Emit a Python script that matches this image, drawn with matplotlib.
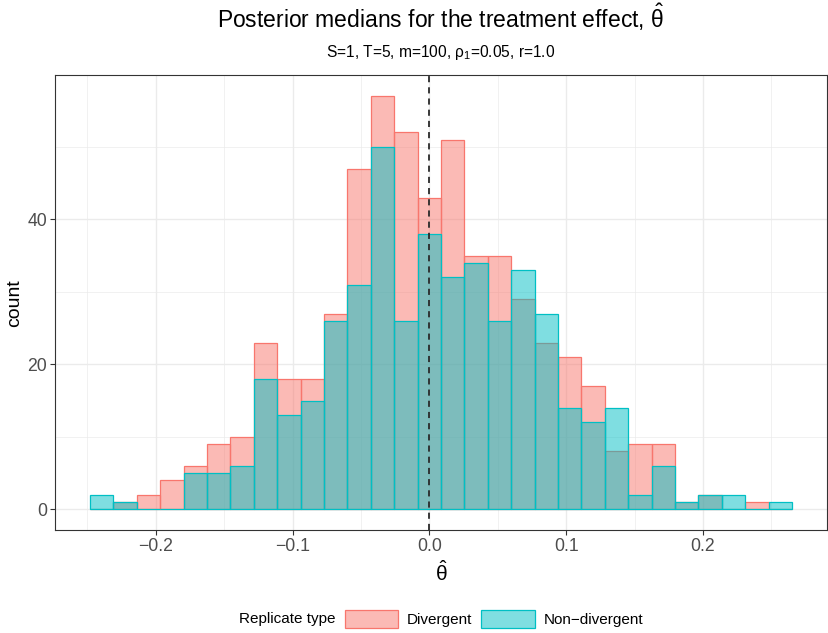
import numpy as np
import matplotlib
matplotlib.use('Agg')
import matplotlib.pyplot as plt
from matplotlib.patches import Patch

plt.rcParams['font.family'] = ['Liberation Sans', 'DejaVu Sans']
plt.rcParams['mathtext.fontset'] = 'custom'
plt.rcParams['mathtext.rm'] = 'Liberation Sans'
plt.rcParams['mathtext.it'] = 'Liberation Sans:italic'
plt.rcParams['mathtext.bf'] = 'Liberation Sans:bold'

# histogram bins (30 bins, ggplot default)
bin_start = -0.2480
bin_width = 0.0171
n_bins = 30

divergent = [0, 1, 2, 4, 6, 9, 10, 23, 18, 18, 27, 47, 57, 52, 43,
             51, 35, 35, 29, 23, 21, 17, 8, 9, 9, 1, 2, 0, 1, 0]
non_divergent = [2, 1, 0, 0, 5, 5, 6, 18, 13, 15, 26, 31, 50, 26, 38,
                 32, 34, 26, 33, 27, 14, 12, 14, 2, 6, 1, 2, 2, 0, 1]

x_ticks = [-0.2, -0.1, 0.0, 0.1, 0.2]
x_minor = [-0.25, -0.15, -0.05, 0.05, 0.15, 0.25]
y_ticks = [0, 20, 40]
y_minor = [10, 30, 50]

red = '#F8766D'
cyan = '#00BFC4'

W, H = 829, 633
fig = plt.figure(figsize=(W / 100, H / 100), dpi=100, facecolor='w')
ax = fig.add_axes([55 / W, 1 - 530 / H, (827 - 55) / W, (530 - 75.4) / H])

edges = bin_start + bin_width * np.arange(n_bins + 1)
for counts, col, z in [(divergent, red, 3), (non_divergent, cyan, 4)]:
    ax.bar(edges[:-1], counts, width=bin_width, align='edge',
           facecolor=matplotlib.colors.to_rgba(col, 0.5), edgecolor=col,
           linewidth=0.9, zorder=z)

ax.axvline(0, color='#2a2a2a', linewidth=1.3, linestyle=(0, (3.4, 2.8)), zorder=5)

xmin, xmax = edges[0], edges[-1]
pad = 0.05 * (xmax - xmin)
ax.set_xlim(xmin - pad, xmax + pad)
ymax = max(max(divergent), max(non_divergent))
ax.set_ylim(-0.05 * ymax, 1.05 * ymax)

ax.set_xticks(x_ticks)
ax.set_xticklabels(['\u22120.2', '\u22120.1', '0.0', '0.1', '0.2'])
ax.set_xticks(x_minor, minor=True)
ax.set_yticks(y_ticks)
ax.set_yticks(y_minor, minor=True)
ax.grid(which='major', color='#EBEBEB', linewidth=1.0, zorder=0)
ax.grid(which='minor', color='#EBEBEB', linewidth=0.5, zorder=0)
ax.set_axisbelow(True)
ax.tick_params(which='major', length=3.5, width=0.8, color='#333333',
               labelsize=12.7, labelcolor='#4D4D4D', pad=2)
ax.tick_params(which='minor', length=0)
for s in ax.spines.values():
    s.set_color('#333333')
    s.set_linewidth(0.8)

ax.set_ylabel('count', fontsize=14, color='black')
ax.yaxis.set_label_coords(-0.0525, 0.5)
ax.yaxis.label.set_va('center')
ax.set_xlabel(r'$\hat{\mathrm{\theta}}$', fontsize=15, color='black')
ax.xaxis.set_label_coords(0.5, -0.095)
ax.xaxis.label.set_va('center')

fig.text(441 / W, 1 - 28 / H,
         r'Posterior medians for the treatment effect, $\hat{\mathrm{\theta}}$',
         ha='center', va='baseline', fontsize=16.5)
fig.text(441 / W, 1 - 57.3 / H,
         r'S=1, T=5, m=100, $\mathrm{\rho}_1$=0.05, r=1.0',
         ha='center', va='baseline', fontsize=11.2)

# legend
fig.text(239.3 / W, 1 - 618.8 / H, 'Replicate type', ha='left', va='center',
         fontsize=11)
handles = [Patch(facecolor=matplotlib.colors.to_rgba(red, 0.5), edgecolor=red, linewidth=0.9),
           Patch(facecolor=matplotlib.colors.to_rgba(cyan, 0.5), edgecolor=cyan, linewidth=0.9)]
fig.legend(handles, ['Divergent', 'Non\u2212divergent'], ncol=2, frameon=False,
           loc='center left', bbox_to_anchor=(345 / W, 1 - 618.8 / H),
           fontsize=11, handlelength=3.5, handleheight=1.4, handletextpad=0.55,
           columnspacing=0.6, borderpad=0, borderaxespad=0)

fig.savefig('out.png', dpi=100)
